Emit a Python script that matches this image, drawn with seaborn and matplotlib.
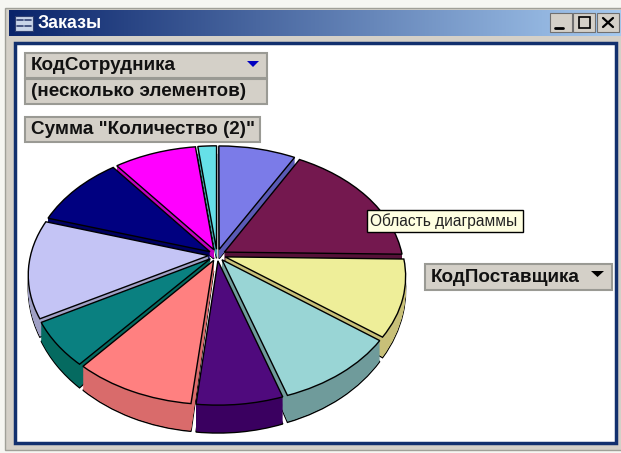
import numpy as np
import matplotlib
matplotlib.use('Agg')
import matplotlib.pyplot as plt
from matplotlib.patches import Rectangle, Polygon
from matplotlib.transforms import Transform
import seaborn as sns

# slices, clockwise from 12 o'clock
supplier_ids = ['1', '2', '3', '4', '5', '6', '7', '8', '9', '10', '11']
quantities = [29, 62, 36, 35, 24, 34, 21, 46, 35, 31, 7]
top_colors = ['#7b7be8', '#74184f', '#eeee99', '#99d5d5', '#4f0a7d', '#ff8080',
              '#0a8080', '#c4c4f5', '#000080', '#ff00ff', '#66e0e8']
wall_colors = ['#5a5ab5', '#551138', '#c8c078', '#6f9b9b', '#3a0060', '#d96b6b',
               '#056a60', '#a0a0c5', '#000060', '#c000c0', '#44aab0']

title = 'Заказы'
page_field = 'КодСотрудника'
page_value = '(несколько элементов)'
data_field = 'Сумма "Количество (2)"'
series_field = 'КодПоставщика'
tooltip = 'Область диаграммы'


class Tilt(Transform):
    # perspective of the flat pie, drop pushes a layer down to make the wall
    input_dims = 2
    output_dims = 2

    def __init__(self, drop=0.0, k=0.145):
        super().__init__()
        self.drop = drop
        self.k = k

    def transform_non_affine(self, values):
        values = np.asarray(values, dtype=float)
        x, y = values[:, 0], values[:, 1]
        s = 1 / (1 + self.k * y)
        wall = np.clip(0.086 - 0.142 * y, 0.07, None)
        return np.column_stack([x * s, y * s - self.drop * wall])


sns.set_theme(style='white')
plt.rcParams['font.family'] = ['Liberation Sans', 'DejaVu Sans']

fig = plt.figure(figsize=(6.21, 4.53), dpi=100, facecolor='#f6f6f2')

back = fig.add_axes([0, 0, 1, 1], zorder=0)
pie_ax = fig.add_axes([0, 0, 1, 1], zorder=1)
front = fig.add_axes([0, 0, 1, 1], zorder=2)
for ax in (back, front):
    ax.set_xlim(0, 621)
    ax.set_ylim(453, 0)
    ax.axis('off')

# window
back.add_patch(Rectangle((5, 8), 620, 442, fc='#d4d0c8', ec='#a0a098', lw=1))
grad = np.linspace(0, 1, 256).reshape(1, -1)
cmap = sns.blend_palette(['#0a246a', '#a6caf0'], as_cmap=True)
back.imshow(grad, extent=(9, 621, 36, 10), cmap=cmap, aspect='auto', zorder=1)
back.set_xlim(0, 621)
back.set_ylim(453, 0)
back.text(38, 23.5, title, color='white', fontsize=12.8, fontweight='bold', va='center', zorder=3)
back.add_patch(Rectangle((15, 16), 18, 15, fc='#c8d4e8', ec='#304070', lw=0.8, zorder=3))
back.plot([17, 23], [20, 20], color='#304070', lw=1.2, zorder=4)
back.plot([17, 23], [26, 26], color='#304070', lw=1.2, zorder=4)
back.plot([25, 31], [20, 20], color='#304070', lw=1.2, zorder=4)
back.plot([25, 31], [26, 26], color='#304070', lw=1.2, zorder=4)
for x0, w in [(550, 22), (573, 22), (597, 22)]:
    back.add_patch(Rectangle((x0, 13), w, 19, fc='#d4d0c8', ec='#707070', lw=0.8, zorder=3))
back.plot([555, 563], [28, 28], color='black', lw=2, zorder=4)
back.add_patch(Rectangle((579, 17), 11, 11, fc='none', ec='black', lw=1.2, zorder=4))
back.plot([603, 613], [18, 27], color='black', lw=1.6, zorder=4)
back.plot([603, 613], [27, 18], color='black', lw=1.6, zorder=4)
back.add_patch(Rectangle((15, 43), 601, 400, fc='white', ec='#12306e', lw=2.5, zorder=2))

# pie, bottom layer first, then the walls, top face last
gaps = [0.05] * len(quantities)
layers = np.linspace(1, 0, 31)
for drop in layers:
    is_top = drop == 0
    is_bottom = drop == 1
    wedges, _ = pie_ax.pie(quantities, explode=gaps, startangle=90, counterclock=False, radius=1.04,
                           colors=sns.color_palette(top_colors if is_top else wall_colors),
                           wedgeprops=dict(lw=1.0 if is_top or is_bottom else 0,
                                           edgecolor='black' if is_top or is_bottom else 'none'))
    for w in wedges:
        w.set_transform(Tilt(drop) + pie_ax.transData)
        w.set_clip_on(False)
pie_ax.set_aspect('auto')
pie_ax.set_xlim(-217 / 171, (621 - 217) / 171)
pie_ax.set_ylim(-(453 - 255) / 116, 255 / 116)
pie_ax.patch.set_alpha(0)


def field_button(x0, y0, x1, y1, text):
    front.add_patch(Rectangle((x0, y0), x1 - x0, y1 - y0, fc='#d4d0c8', ec='#9a9a94', lw=1.5))
    front.text(x0 + 6, (y0 + y1) / 2 + 0.5, text, color='#111111', fontsize=13.6,
               fontweight='bold', va='center')


field_button(25, 53, 267, 78, page_field)
field_button(25, 79, 267, 104, page_value)
field_button(25, 117, 260, 142, data_field)
field_button(425, 264, 612, 290, series_field)
front.add_patch(Polygon([(247, 61), (259, 61), (253, 67)], fc='#0000c0', ec='none'))
front.add_patch(Polygon([(591, 271), (604, 271), (597.5, 277)], fc='black', ec='none'))

front.add_patch(Rectangle((367, 210), 156, 22, fc='#ffffe1', ec='black', lw=1))
front.text(370, 221.5, tooltip, color='#222222', fontsize=11.2, va='center')

fig.savefig('out.png', dpi=100, facecolor=fig.get_facecolor())
